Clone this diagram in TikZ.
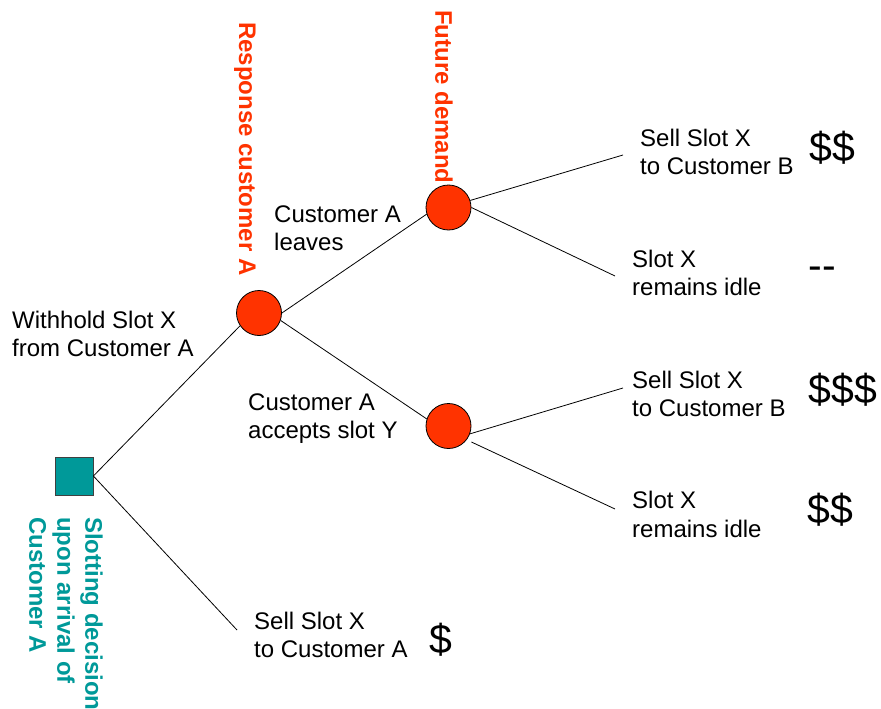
\documentclass[tikz,border=0pt]{standalone}
\usepackage{fontspec}
\setmainfont{Liberation Sans}
\definecolor{dred}{HTML}{FF3300}
\definecolor{dteal}{HTML}{009999}
\begin{document}
\begin{tikzpicture}[x=1pt,y=-1pt,
  chance/.style={circle,draw=black,fill=dred,minimum size=45pt,inner sep=0pt,line width=0.8pt},
  decision/.style={rectangle,draw=black!75,fill=dteal,minimum size=38pt,inner sep=0pt,line width=0.8pt},
  lbl/.style={anchor=north west,inner sep=0pt,align=left,font=\fontsize{24}{28.3}\selectfont},
  pay/.style={inner sep=0pt,font=\fontsize{41}{44}\selectfont},
  head/.style={inner sep=0pt,rotate=-90,align=left,font=\fontsize{24}{28}\selectfont\bfseries},
  branch/.style={draw=black,line width=0.8pt}]
\useasboundingbox (0,0) rectangle (881,709);

% decision and chance nodes
\node[decision] (sq) at (74,476) {};
\node[chance] (c1) at (259,313) {};
\node[chance] (c2) at (448.5,207.5) {};
\node[chance] (c3) at (448.5,426) {};

% free ends
\coordinate (e0) at (237,630);
\coordinate (e1) at (623,155);
\coordinate (e2) at (615,276);
\coordinate (e3) at (623,388);
\coordinate (e4) at (615,509);

% branches
\draw[branch] (sq.east) -- (c1.214);
\draw[branch] (sq.east) -- (e0);
\draw[branch] (c1.east) -- (c2.197);
\draw[branch] (c1.-19) -- (c3.162);
\draw[branch] (c2.18) -- (e1);
\draw[branch] (c2.east) -- (e2);
\draw[branch] (c3.-20) -- (e3);
\draw[branch] ([yshift=-16pt]c3.east) -- (e4);

% branch labels
\node[lbl] (l1) at (640,128.7) {Sell Slot X\\to Customer B};
\node[lbl] (l2) at (632,249.5) {Slot X\\remains idle};
\node[lbl] (l3) at (632,370.7) {Sell Slot X\\to Customer B};
\node[lbl] (l4) at (632,491.3) {Slot X\\remains idle};
\node[lbl] (l5) at (254,611.7) {Sell Slot X\\to Customer A};
\node[lbl] (l6) at (12,310.7) {Withhold Slot X\\from Customer A};
\node[lbl] (l7) at (274,205.4) {Customer A\\leaves};
\node[lbl] (l8) at (248,393.7) {Customer A\\accepts slot Y};

% payoffs
\node[pay] (p1) at (832,148) {\$\$};
\node[pay] (p2) at (822,273) {-{}-};
\node[pay] (p3) at (843,390) {\$\$\$};
\node[pay] (p4) at (830,510) {\$\$};
\node[pay] (p5) at (441,640) {\$};

% headings
\node[head,text=dred,anchor=west] (h1) at (245,22) {Response customer A};
\node[head,text=dred,anchor=west] (h2) at (444,10) {Future demand};
\node[head,text=dteal,anchor=north west] (h3) at (103,517) {Slotting decision\\upon arrival of\\Customer A};
\end{tikzpicture}
\end{document}
